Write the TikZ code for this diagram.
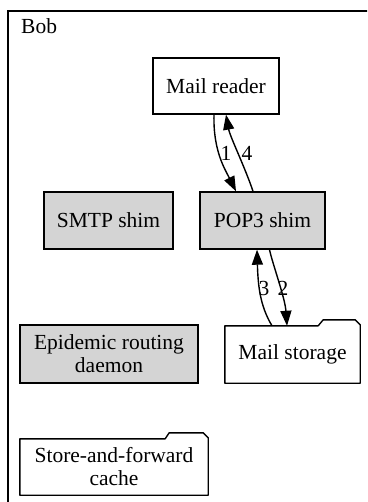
\documentclass[tikz,border=0pt]{standalone}
\usepackage{fontspec}
\setmainfont{Liberation Serif}
\usetikzlibrary{arrows.meta}
\tikzset{
  lw/.style={line width=1.4pt},
  box/.style={lw, draw, rectangle, inner sep=0pt, align=center, font=\fontsize{21.5}{23}\selectfont},
  shim/.style={box, fill=black!17},
  plain/.style={box, fill=white},
  folder/.style={rectangle, inner sep=0pt, align=center, font=\fontsize{21.5}{23}\selectfont},
  lbl/.style={inner sep=0pt, font=\fontsize{21.5}{23}\selectfont},
  edge/.style={lw, -{Triangle[length=15pt,width=11pt]}}
}
\begin{document}
\begin{tikzpicture}[x=1pt,y=-1pt]
\useasboundingbox (0,0) rectangle (367,502);
\clip (0,0) rectangle (367,502);
% cluster
\draw[line width=1.5pt] (8,11) rectangle (390,530);
\node[lbl, anchor=base west] (bob) at (21,34) {Bob};
% nodes
\node[plain, minimum width=126pt, minimum height=56pt] (mr) at (216,86) {Mail reader};
\node[shim, minimum width=129pt, minimum height=57pt] (smtp) at (108.5,220.5) {SMTP shim};
\node[shim, minimum width=125pt, minimum height=57pt] (pop) at (262.5,220.5) {POP3 shim};
\node[shim, minimum width=178pt, minimum height=58pt] (epi) at (109,354) {Epidemic routing\\daemon};
\node[folder, minimum width=135pt, minimum height=57pt] (ms) at (292.5,354.5) {Mail storage};
\node[folder, minimum width=188pt, minimum height=56pt] (sfc) at (114,467) {Store-and-forward\\cache};
% folder outlines
\draw[lw, line join=round] (ms.north west) -- ([xshift=-42pt]ms.north east) -- ([xshift=-37pt,yshift=6pt]ms.north east)
  -- ([xshift=-5pt,yshift=6pt]ms.north east) -- ([yshift=1pt]ms.north east) -- (ms.south east) -- (ms.south west) -- cycle;
\draw[lw, line join=round] (sfc.north west) -- ([xshift=-43pt]sfc.north east) -- ([xshift=-39pt,yshift=6pt]sfc.north east)
  -- ([xshift=-5pt,yshift=6pt]sfc.north east) -- ([yshift=1pt]sfc.north east) -- (sfc.south east) -- (sfc.south west) -- cycle;
% edges
\draw[edge] ([xshift=-2pt]mr.south) .. controls +(-1,36) and +(-11,-22) .. ([xshift=-26.5pt]pop.north);
\draw[edge] ([xshift=-9.5pt]pop.north) .. controls +(-8,-24) and +(4,22) .. ([xshift=10pt]mr.south);
\draw[edge] ([xshift=7pt]pop.south) .. controls +(3,14) and +(-2,-28) .. ([xshift=-5.5pt]ms.north);
\draw[edge] ([xshift=-20.5pt]ms.north) .. controls +(-12,-20) and +(1,36) .. ([xshift=-5.5pt]pop.south);
% labels
\node[lbl] (l1) at (226,153) {1};
\node[lbl] (l4) at (247,153) {4};
\node[lbl] (l3) at (264,288) {3};
\node[lbl] (l2) at (283,288) {2};
\end{tikzpicture}
\end{document}
